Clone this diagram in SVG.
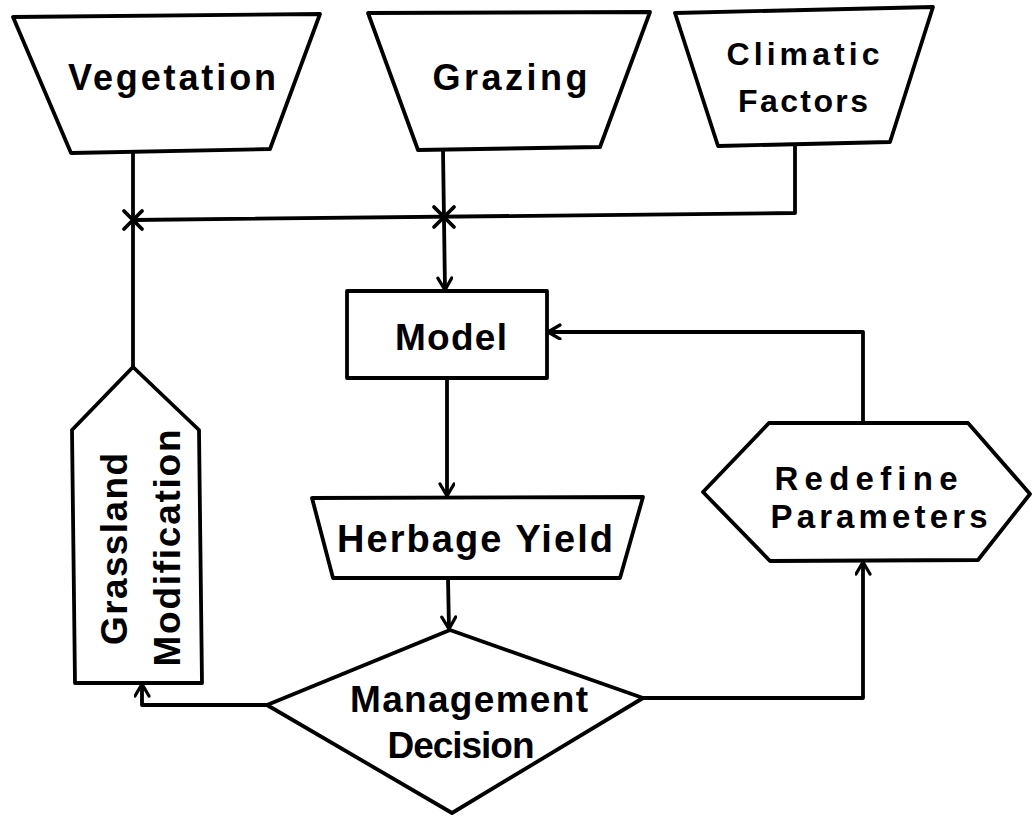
<svg xmlns="http://www.w3.org/2000/svg" width="1033" height="818" viewBox="0 0 1033 818">
  <style>
    .shape { fill: #fff; stroke: #000; stroke-width: 3.8; stroke-linejoin: round; }
    .wire { fill: none; stroke: #000; stroke-width: 3.8; stroke-linejoin: round; stroke-linecap: round; }
    .label { font-family: "Liberation Sans", Arial, sans-serif; font-weight: bold; fill: #000; text-anchor: middle; }
  </style>
  <defs>
    <marker id="arrow" markerUnits="userSpaceOnUse" markerWidth="20" markerHeight="20" refX="14" refY="8" orient="auto">
      <path d="M2,1 L14,8 L2,15" fill="none" stroke="#000" stroke-width="3.2" stroke-linecap="round" stroke-linejoin="round"/>
    </marker>
  </defs>
  <rect width="1033" height="818" fill="#fff"/>

  <!-- connectors -->
  <g id="connectors">
    <!-- Vegetation stem down to Grassland Modification -->
    <path class="wire" d="M133,153 L133,367"/>
    <!-- collector line joining the three inputs -->
    <path class="wire" d="M133,220 L795,213 L795,146"/>
    <!-- junction stars -->
    <path class="wire" d="M124,211 L142,229 M142,211 L124,229"/>
    <path class="wire" d="M434,207 L454,227 M454,207 L434,227"/>
    <!-- Grazing to Model -->
    <path class="wire" d="M443,150 L445,290" marker-end="url(#arrow)"/>
    <!-- Model to Herbage Yield -->
    <path class="wire" d="M447,378 L447,496" marker-end="url(#arrow)"/>
    <!-- Herbage Yield to Management Decision -->
    <path class="wire" d="M448,578 L449,629" marker-end="url(#arrow)"/>
    <!-- Decision to Grassland Modification -->
    <path class="wire" d="M267,705 L142,705 L142,684" marker-end="url(#arrow)"/>
    <!-- Decision to Redefine Parameters -->
    <path class="wire" d="M643,698 L863,698 L863,562" marker-end="url(#arrow)"/>
    <!-- Redefine Parameters back to Model -->
    <path class="wire" d="M863,423 L863,332 L548,332" marker-end="url(#arrow)"/>
  </g>

  <g id="vegetation">
    <path class="shape" d="M13,17 L320,14 L270,149 L71,153 Z"/>
    <text class="label" x="172" y="90" font-size="36" textLength="208" lengthAdjust="spacing">Vegetation</text>
  </g>

  <g id="grazing">
    <path class="shape" d="M368,13 L650,12 L600,147 L418,150 Z"/>
    <text class="label" x="510" y="90" font-size="36" textLength="155" lengthAdjust="spacing">Grazing</text>
  </g>

  <g id="climatic-factors">
    <path class="shape" d="M675,13 L933,7 L890,142 L718,146 Z"/>
    <text class="label" x="803" y="65" font-size="32" textLength="153" lengthAdjust="spacing">Climatic</text>
    <text class="label" x="803" y="112" font-size="32" textLength="130" lengthAdjust="spacing">Factors</text>
  </g>

  <g id="model">
    <rect class="shape" x="347" y="291" width="200" height="87"/>
    <text class="label" x="451" y="350" font-size="37" textLength="112" lengthAdjust="spacing">Model</text>
  </g>

  <g id="herbage-yield">
    <path class="shape" d="M312,498 L643,497 L620,578 L333,578 Z"/>
    <text class="label" x="475" y="552" font-size="38" textLength="276" lengthAdjust="spacing">Herbage  Yield</text>
  </g>

  <g id="management-decision">
    <path class="shape" d="M450,630 L643,698 L452,813 L267,705 Z"/>
    <text class="label" x="469" y="712" font-size="37" textLength="238" lengthAdjust="spacing">Management</text>
    <text class="label" x="461" y="758" font-size="37" textLength="147" lengthAdjust="spacing">Decision</text>
  </g>

  <g id="redefine-parameters">
    <path class="shape" d="M769,423 L968,423 L1030,494 L978,560 L770,561 L703,492 Z"/>
    <text class="label" x="866" y="490" font-size="33" textLength="183" lengthAdjust="spacing">Redefine</text>
    <text class="label" x="879" y="528" font-size="33" textLength="217" lengthAdjust="spacing">Parameters</text>
  </g>

  <g id="grassland-modification">
    <path class="shape" d="M133,367 L199,430 L202,683 L75,683 L72,430 Z"/>
    <text class="label" font-size="37" textLength="192" lengthAdjust="spacing" transform="translate(127,549) rotate(-90)">Grassland</text>
    <text class="label" font-size="37" textLength="237" lengthAdjust="spacing" transform="translate(180,548) rotate(-90)">Modification</text>
  </g>
</svg>
